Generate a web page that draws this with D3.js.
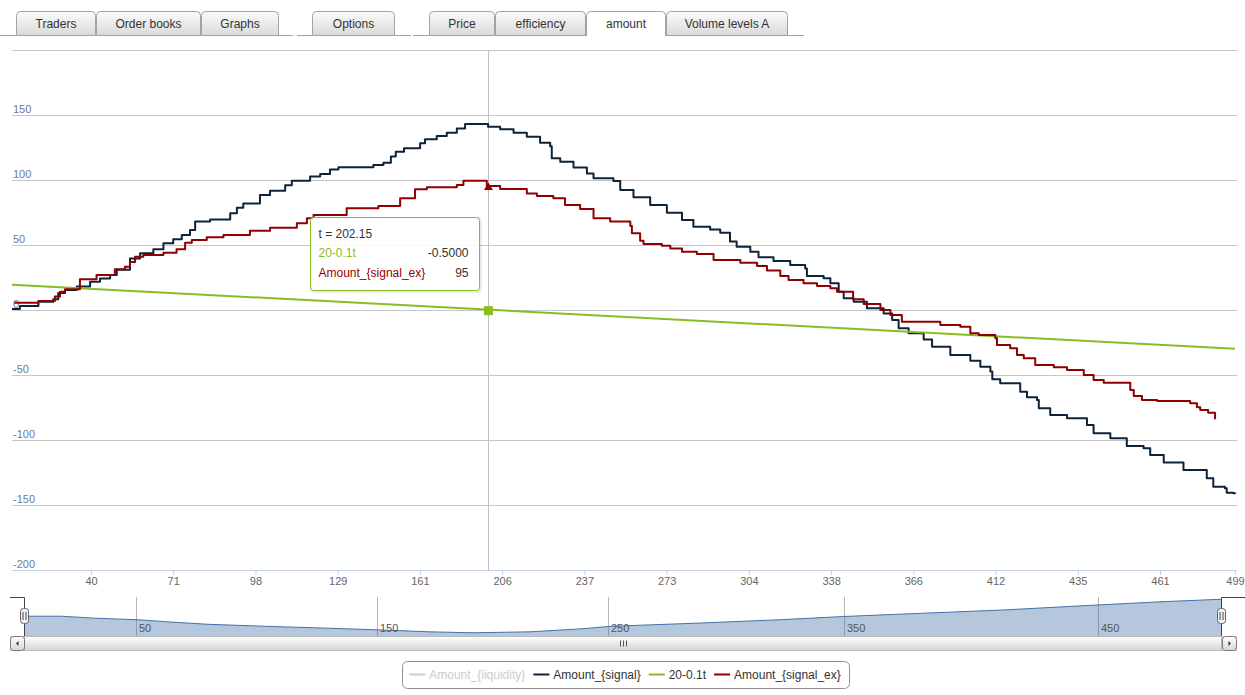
<!DOCTYPE html>
<html>
<head>
<meta charset="utf-8">
<script src="https://cdn.jsdelivr.net/npm/d3@7"></script>
<style>
  body { margin: 0; background: #fff; }
  svg { display: block; font-family: "Liberation Sans", Arial, sans-serif; }
</style>
</head>
<body>
<svg id="chart" width="1245" height="695"></svg>
<script>
// amount tab — stock-style step chart with navigator, scrollbar and legend.
// The x axis is ordinal: tick labels are evenly spaced in pixels, so the
// t -> px scale is piecewise linear through the tick values.

// ----- Data -----
const tabGroups = [
  ['Traders', 'Order books', 'Graphs'],
  ['Options'],
  ['Price', 'efficiency', 'amount', 'Volume levels A']
];
const activeTab = 'amount';

const xTickT = [40, 71, 98, 129, 161, 206, 237, 273, 304, 338, 366, 412, 435, 461];
const tStart = 5;
const tEnd = 499;

// Amount_{signal}: [t, value] step points
const signalData = [
  [5,0.8],[8.5,3],[16.7,6.4],[23.3,8.2],[25.5,13],[28.5,15.4],[33.7,18],[39.6,21.8],
  [43.4,24.3],[47.2,27],[49.7,31],[54.7,39.7],[58.5,43.6],[63.5,46.7],[67.3,51.3],[71,54.4],
  [73.8,57.7],[76.5,61.5],[78.2,68],[83.1,69.7],[89.7,74.4],[91.9,78.7],[94,82],[99.7,88.5],
  [103.5,91.8],[109.2,96],[111.7,99.5],[118.6,102.6],[122.4,104.6],[126.1,108],[129.3,109.8],
  [142.9,111.5],[146.8,113.3],[149.7,118],[151.6,121.8],[154.8,124.4],[161.1,128.2],[163.8,131.3],
  [170.2,133.8],[175.7,136.4],[181.2,139.7],[185.7,143],[198.3,141],[204.9,139],[210.3,136.4],
  [215.3,133.3],[220.3,128.7],[224.1,126],[224.7,116.7],[227.9,114],[232.9,109.7],[238.1,105],
  [241,101.3],[249.7,99.2],[252.7,92.3],[258.5,86.7],[265.8,80.8],[273.1,74.9],[278.8,69.2],
  [283.1,64.1],[289.4,62],[293.2,59.5],[296.9,52.6],[299.4,48.7],[304.6,44.9],[308,40.5],
  [314.2,37.7],[321.1,34.6],[327.3,32],[328,26.2],[334.9,24.4],[337.7,20.5],[340.6,14.1],
  [342.3,9],[345.7,6.4],[350.2,1.3],[355.9,-2.6],[358.8,-7.7],[361,-14.1],[364.4,-17.9],
  [371.8,-22.6],[376.5,-28.2],[386.7,-34.6],[397.9,-39],[403.5,-43.6],[409.1,-47.4],[410.2,-53.3],
  [413.3,-56.4],[418.9,-62.8],[420.8,-67.2],[423.6,-69.2],[424.1,-75.6],[427.3,-80.8],[432,-83.3],
  [437.9,-88.5],[440,-94.9],[445.3,-98.7],[450.5,-104.6],[455.8,-106.4],[457.9,-111.5],
  [462.9,-117.4],[472.9,-123],[484.7,-129.5],[488,-135.9],[493.9,-137.2],[494.8,-140.5],
  [498.1,-141],[499,-141.5]
];

// Amount_{signal_ex}
const signalExData = [
  [6,5.5],[16.7,7],[24,10.3],[26.3,14],[28.5,16],[35.1,23.6],[42.1,27],[49,31.3],[52.8,33.3],
  [54.7,37],[56.6,41],[59.7,42.3],[67.3,44],[72.1,46.7],[74.9,51.8],[77.1,53.8],[82,55.9],
  [87.5,57.7],[96.2,61],[103.5,63.3],[113.6,66.7],[117.4,70.5],[119.9,73],[132.5,78.2],
  [144.8,80],[153.3,85.9],[159.1,92.8],[164.8,94.4],[181.2,96.2],[184.8,99.5],[197.6,95.4],
  [204.9,93],[215.3,89.7],[219.1,87.7],[225.3,85.9],[229.7,80.8],[235.4,77.7],[241,70.5],
  [248.3,68],[257.1,64.6],[257.8,59],[261.4,53.3],[262.9,50.8],[270.9,49.5],[274.4,47.4],
  [278.8,44.9],[284.4,43],[290.7,38.5],[300.8,36.4],[307.4,33.8],[311.5,30.3],[317,26.2],
  [320.4,23],[326.6,20.5],[332.2,18.5],[337.7,16.7],[340,14.1],[345.5,8.2],[349.1,4.6],
  [354.8,0],[358.2,-3.8],[362.1,-9],[381.1,-11.5],[392.3,-12.8],[397.9,-17.9],[402.6,-19.2],
  [411.9,-21.8],[412.4,-26.9],[416.1,-29.5],[418,-34.6],[419.9,-37.2],[423.1,-42.3],
  [428.3,-44.1],[432,-46.2],[436.9,-50],[440,-53.8],[443.2,-55.9],[451.6,-61.5],[452.7,-66.2],
  [455.3,-69.2],[460.1,-70],[476.3,-71.8],[479.7,-74.9],[481.4,-76.9],[485.4,-79],[488.9,-84.1]
];

// 20-0.1t: the two end points
const trendData = [[5, 19.5], [499, -29.9]];

// Navigator series (Amount_{liquidity}), own units
const navT = [4,19.2,32.8,50.4,64.5,79.9,103.5,129.3,150.4,172.5,191.5,216.7,237.9,251.7,
              289.1,323,349.8,380.6,412.9,451.2,476.7,499];
const navV = [20.3,20.3,18.3,16.7,14.3,12,10,8,6.3,4.3,3.3,4.3,7.3,10,13.3,16.7,20,23.3,
              26.7,32,35.3,37.7];
const navTicks = [50, 150, 250, 350, 450];

// Hovered point and its tooltip
const hoverT = 198.5;
const hoverTrend = -0.5;
const hoverSignalEx = 95;
const tooltipHeader = 't = 202.15';
const tooltipRows = [
  { name: '20-0.1t', value: '-0.5000', color: '#8bbc21' },
  { name: 'Amount_{signal_ex}', value: '95', color: '#910000' }
];

const legendItems = [
  { name: 'Amount_{liquidity}', color: '#2f7ed8', hidden: true },
  { name: 'Amount_{signal}', color: '#0d233a' },
  { name: '20-0.1t', color: '#8bbc21' },
  { name: 'Amount_{signal_ex}', color: '#910000' }
];

(function () {
  const svg = d3.select('#chart');
  const defs = svg.append('defs');

  // ----- Tabs -----
  const tabLayout = [
    { x0: 16, line: [0, 293], widths: [80, 105, 78] },
    { x0: 312, line: [297, 411], widths: [83] },
    { x0: 429, line: [413, 804], widths: [66, 91, 80, 122] }
  ];
  const tabGrad = defs.append('linearGradient').attr('id', 'tabGrad')
    .attr('x1', 0).attr('y1', 0).attr('x2', 0).attr('y2', 1);
  tabGrad.append('stop').attr('offset', '0%').attr('stop-color', '#fbfbfb');
  tabGrad.append('stop').attr('offset', '100%').attr('stop-color', '#d9d9d9');

  const tabTop = 11.5, tabBottom = 36;
  const tabsG = svg.append('g');
  let activeBox = null;
  tabGroups.forEach((names, gi) => {
    const lay = tabLayout[gi];
    let x = lay.x0;
    names.forEach((name, i) => {
      const w = lay.widths[i];
      const isActive = name === activeTab;
      const x0 = x + 0.5, x1 = x + w - 0.5;
      tabsG.append('path')
        .attr('d', `M${x0},${tabBottom} V${tabTop + 4} Q${x0},${tabTop} ${x0 + 4},${tabTop}` +
                   ` H${x1 - 4} Q${x1},${tabTop} ${x1},${tabTop + 4} V${tabBottom}`)
        .attr('fill', isActive ? '#fff' : 'url(#tabGrad)')
        .attr('stroke', '#a3a3a3');
      tabsG.append('text')
        .attr('x', x + w / 2).attr('y', 28)
        .attr('text-anchor', 'middle')
        .attr('font-size', 12).attr('fill', '#333')
        .text(name);
      if (isActive) activeBox = [x0, x1];
      x += w;
    });
    tabsG.append('line')
      .attr('x1', lay.line[0]).attr('x2', lay.line[1])
      .attr('y1', 35.5).attr('y2', 35.5)
      .attr('stroke', '#a3a3a3');
  });
  if (activeBox) {
    tabsG.append('line')
      .attr('x1', activeBox[0] + 0.5).attr('x2', activeBox[1] - 0.5)
      .attr('y1', 35.5).attr('y2', 35.5).attr('stroke', '#fff');
  }

  // ----- Main plot -----
  const plot = { left: 12, right: 1237, top: 50, bottom: 570 };
  const tickIndex = d3.scaleLinear().domain([0, xTickT.length - 1]).range([91, 1160]);
  const x = d3.scaleLinear()
    .domain([tStart, ...xTickT, tEnd])
    .range([plot.left, ...xTickT.map((_, i) => tickIndex(i)), 1235]);
  const y = d3.scaleLinear().domain([-200, 200]).range([plot.bottom, plot.top]);

  // Grid + y labels
  const gridG = svg.append('g');
  y.ticks(8).forEach(v => {
    const yy = Math.round(y(v)) + 0.5;
    gridG.append('line')
      .attr('x1', plot.left).attr('x2', plot.right)
      .attr('y1', yy).attr('y2', yy)
      .attr('stroke', '#c6c6c6');
    if (v < 200) {
      gridG.append('text')
        .attr('x', plot.left + 1).attr('y', yy - 3)
        .attr('font-size', 11).attr('fill', '#6a7c97')
        .text(v);
    }
  });

  // Crosshair
  const hx = Math.round(x(hoverT)) + 0.5;
  svg.append('line')
    .attr('x1', hx).attr('x2', hx)
    .attr('y1', plot.top).attr('y2', plot.bottom)
    .attr('stroke', '#c0c0c0');

  // X axis
  const xAxis = svg.append('g')
    .attr('transform', `translate(0,${plot.bottom})`)
    .call(d3.axisBottom(x).tickValues([...xTickT, tEnd]).tickSize(5).tickSizeOuter(0));
  xAxis.select('.domain').remove();
  xAxis.selectAll('.tick line').attr('stroke', '#c0d0e0');
  xAxis.selectAll('.tick text')
    .attr('fill', '#666').attr('font-size', 11)
    .attr('font-family', '"Liberation Sans", Arial, sans-serif')
    .attr('y', 7);
  svg.append('line')
    .attr('x1', plot.left).attr('x2', plot.right)
    .attr('y1', plot.bottom + 0.5).attr('y2', plot.bottom + 0.5)
    .attr('stroke', '#c0d0e0');

  // Series
  defs.append('clipPath').attr('id', 'plotClip')
    .append('rect')
    .attr('x', plot.left).attr('y', plot.top)
    .attr('width', plot.right - plot.left).attr('height', plot.bottom - plot.top);
  const seriesG = svg.append('g').attr('clip-path', 'url(#plotClip)');
  const stepLine = d3.line().x(d => x(d[0])).y(d => y(d[1])).curve(d3.curveStepAfter);
  const straight = d3.line().x(d => x(d[0])).y(d => y(d[1]));

  seriesG.append('path').datum(signalData)
    .attr('d', stepLine).attr('fill', 'none')
    .attr('stroke', '#0d233a').attr('stroke-width', 2).attr('stroke-linejoin', 'round');
  seriesG.append('path').datum(trendData)
    .attr('d', straight).attr('fill', 'none')
    .attr('stroke', '#8bbc21').attr('stroke-width', 2);
  seriesG.append('path').datum(signalExData)
    .attr('d', stepLine).attr('fill', 'none')
    .attr('stroke', '#910000').attr('stroke-width', 2).attr('stroke-linejoin', 'round');

  // Hover markers
  const mx = x(hoverT);
  svg.append('rect')
    .attr('x', mx - 4.5).attr('y', y(hoverTrend) - 4.5)
    .attr('width', 9).attr('height', 9)
    .attr('fill', '#8bbc21');
  const ty = y(hoverSignalEx);
  svg.append('path')
    .attr('d', `M${mx},${ty - 4} L${mx + 4.5},${ty + 3.5} L${mx - 4.5},${ty + 3.5} Z`)
    .attr('fill', '#910000');

  // Tooltip
  const tip = { x: 310.5, y: 217.5, w: 169, h: 73 };
  const tipG = svg.append('g');
  tipG.append('rect')
    .attr('x', tip.x + 1).attr('y', tip.y + 1).attr('width', tip.w).attr('height', tip.h)
    .attr('rx', 3).attr('fill', 'none')
    .attr('stroke', 'rgba(0,0,0,0.08)').attr('stroke-width', 3);
  tipG.append('rect')
    .attr('x', tip.x).attr('y', tip.y).attr('width', tip.w).attr('height', tip.h)
    .attr('rx', 3).attr('fill', 'rgba(255,255,255,0.85)')
    .attr('stroke', '#8bbc21');
  tipG.append('text')
    .attr('x', tip.x + 8).attr('y', tip.y + 20)
    .attr('font-size', 12).attr('fill', '#333')
    .text(tooltipHeader);
  tooltipRows.forEach((r, i) => {
    const by = tip.y + 39 + i * 20;
    tipG.append('text')
      .attr('x', tip.x + 8).attr('y', by)
      .attr('font-size', 12).attr('fill', r.color)
      .text(r.name);
    tipG.append('text')
      .attr('x', tip.x + tip.w - 11).attr('y', by)
      .attr('text-anchor', 'end')
      .attr('font-size', 12).attr('fill', '#333')
      .text(r.value);
  });

  // ----- Navigator -----
  const nav = { left: 10, right: 1237, top: 597, bottom: 636 };
  const navBreakT = [4, 50, 150, 250, 350, 450, 499];
  const navBreakPx = [24.5, 136, 377, 608, 844, 1098, 1221.5];
  const navX = d3.scaleLinear().domain(navBreakT).range(navBreakPx);
  const navY = d3.scaleLinear().domain([0, 40]).range([nav.bottom, nav.top]);
  const navData = navT.map((t, i) => [t, navV[i]]);

  const navG = svg.append('g');
  navTicks.forEach(t => {
    const xx = Math.round(navX(t)) + 0.5;
    navG.append('line')
      .attr('x1', xx).attr('x2', xx)
      .attr('y1', nav.top).attr('y2', nav.bottom)
      .attr('stroke', '#b8b8b8');
  });
  navG.append('path').datum(navData)
    .attr('d', d3.area().x(d => navX(d[0])).y0(nav.bottom).y1(d => navY(d[1])))
    .attr('fill', '#4572a7').attr('fill-opacity', 0.4);
  navG.append('path').datum(navData)
    .attr('d', d3.line().x(d => navX(d[0])).y(d => navY(d[1])))
    .attr('fill', 'none').attr('stroke', '#4572a7').attr('stroke-width', 1);
  navTicks.forEach(t => {
    navG.append('text')
      .attr('x', Math.round(navX(t)) + 3).attr('y', 632)
      .attr('font-size', 11).attr('fill', '#555')
      .text(t);
  });

  // Outline around the selected range
  const zMin = navX(navBreakT[0]), zMax = navX(tEnd);
  navG.append('path')
    .attr('d', `M${nav.left},${nav.top + 0.5} H${zMin} V${nav.bottom + 0.5} H${zMax}` +
               ` V${nav.top + 0.5} H1245`)
    .attr('fill', 'none').attr('stroke', '#444');

  // Scrollbar
  const sb = { y: 636.5, h: 14 };
  const sbGrad = defs.append('linearGradient').attr('id', 'sbGrad')
    .attr('x1', 0).attr('y1', 0).attr('x2', 0).attr('y2', 1);
  sbGrad.append('stop').attr('offset', '0%').attr('stop-color', '#ffffff');
  sbGrad.append('stop').attr('offset', '100%').attr('stop-color', '#d6d6d6');
  navG.append('rect')
    .attr('x', nav.left + 0.5).attr('y', sb.y).attr('width', nav.right - nav.left - 1).attr('height', sb.h)
    .attr('fill', '#eee').attr('stroke', '#ccc');
  navG.append('rect')
    .attr('x', zMin).attr('y', sb.y).attr('width', zMax - zMin).attr('height', sb.h)
    .attr('fill', 'url(#sbGrad)').attr('stroke', '#bbb');
  const gripX = Math.round((zMin + zMax) / 2);
  [-3, 0, 3].forEach(d => {
    navG.append('line')
      .attr('x1', gripX + d + 0.5).attr('x2', gripX + d + 0.5)
      .attr('y1', sb.y + 4).attr('y2', sb.y + 10)
      .attr('stroke', '#555');
  });
  [[nav.left + 0.5, -1], [nav.right - 14.5, 1]].forEach(([bx, dir]) => {
    navG.append('rect')
      .attr('x', bx).attr('y', sb.y).attr('width', 14).attr('height', sb.h)
      .attr('rx', 3).attr('fill', 'url(#sbGrad)').attr('stroke', '#777');
    const cx = bx + 7, cy = sb.y + 7;
    navG.append('path')
      .attr('d', dir < 0
        ? `M${cx - 1.5},${cy} L${cx + 1},${cy - 2.5} L${cx + 1},${cy + 2.5} Z`
        : `M${cx + 1.5},${cy} L${cx - 1},${cy - 2.5} L${cx - 1},${cy + 2.5} Z`)
      .attr('fill', '#333');
  });

  // Handles
  [zMin, zMax].forEach(hxp => {
    navG.append('rect')
      .attr('x', hxp - 4).attr('y', 608.5).attr('width', 8).attr('height', 15)
      .attr('rx', 3).attr('fill', '#f2f2f2').attr('stroke', '#666');
    [-1.5, 1.5].forEach(d => {
      navG.append('line')
        .attr('x1', hxp + d).attr('x2', hxp + d)
        .attr('y1', 612).attr('y2', 620)
        .attr('stroke', '#444');
    });
  });

  // ----- Legend -----
  const legG = svg.append('g');
  const box = legG.append('rect')
    .attr('y', 661.5).attr('height', 27).attr('rx', 5)
    .attr('fill', '#fff').attr('stroke', '#909090');
  const itemsG = legG.append('g');
  let lx = 0;
  legendItems.forEach(item => {
    const col = item.hidden ? '#cccccc' : item.color;
    itemsG.append('line')
      .attr('x1', lx).attr('x2', lx + 16)
      .attr('y1', 674.5).attr('y2', 674.5)
      .attr('stroke', col).attr('stroke-width', 2);
    const t = itemsG.append('text')
      .attr('x', lx + 20).attr('y', 679)
      .attr('font-size', 12).attr('fill', item.hidden ? '#cccccc' : '#333')
      .text(item.name);
    lx += 20 + t.node().getComputedTextLength() + 8;
  });
  const itemsW = lx - 8;
  const legCenter = 625.5;
  const padL = 7, padR = 8;
  const startX = legCenter - (itemsW + padL + padR) / 2;
  itemsG.attr('transform', `translate(${startX + padL},0)`);
  box.attr('x', Math.round(startX) + 0.5).attr('width', Math.round(itemsW + padL + padR));
})();
</script>
</body>
</html>
